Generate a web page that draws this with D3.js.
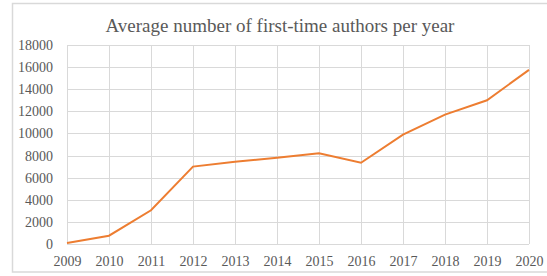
<!DOCTYPE html>
<meta charset="utf-8">
<style>
body { margin: 0; background: #fff; }
.tick text { font-family: "Liberation Serif", "Times New Roman", serif; font-size: 14px; fill: #595959; }
.grid line { stroke: #d9d9d9; stroke-width: 1px; }
.line { fill: none; stroke: #ed7d31; stroke-width: 2px; }
</style>
<body>
<script src="https://cdn.jsdelivr.net/npm/d3@7"></script>
<script>

// data
var years = [2009, 2010, 2011, 2012, 2013, 2014, 2015, 2016, 2017, 2018, 2019, 2020];
var authors = [100, 750, 3050, 7000, 7450, 7800, 8200, 7350, 9900, 11700, 13000, 15750];
var yTicks = [0, 2000, 4000, 6000, 8000, 10000, 12000, 14000, 16000, 18000];

var W = 547, H = 276;
var plot = {left: 67, right: 529, top: 45, bottom: 244};

var svg = d3.select("body").append("svg")
    .attr("width", W)
    .attr("height", H);

// chart border
svg.append("rect")
    .attr("x", 12.5).attr("y", 3.5)
    .attr("width", W).attr("height", 268.5)
    .attr("fill", "#fff")
    .attr("stroke", "#d9d9d9")
    .attr("stroke-width", 1.5);

var x = d3.scalePoint().domain(years).range([plot.left, plot.right]);
var y = d3.scaleLinear().domain([0, 18000]).range([plot.bottom, plot.top]);

// horizontal grid
svg.append("g")
    .attr("class", "grid")
    .selectAll("line")
    .data(yTicks)
  .enter().append("line")
    .attr("x1", plot.left).attr("x2", plot.right)
    .attr("y1", d => Math.round(y(d)) + 0.5)
    .attr("y2", d => Math.round(y(d)) + 0.5);

// vertical grid
svg.append("g")
    .attr("class", "grid")
    .selectAll("line")
    .data(years)
  .enter().append("line")
    .attr("y1", plot.top).attr("y2", plot.bottom)
    .attr("x1", d => Math.round(x(d)) + 0.5)
    .attr("x2", d => Math.round(x(d)) + 0.5);

// y axis labels
var yAxis = svg.append("g")
    .attr("transform", "translate(" + plot.left + ",0)")
    .call(d3.axisLeft(y).tickValues(yTicks).tickSize(0).tickPadding(14).tickFormat(d3.format("d")));
yAxis.select(".domain").remove();

// x axis labels
var xAxis = svg.append("g")
    .attr("transform", "translate(0," + plot.bottom + ")")
    .call(d3.axisBottom(x).tickSize(0).tickPadding(12).tickFormat(d3.format("d")));
xAxis.select(".domain").remove();

// line
var valueline = d3.line()
    .x((d, i) => x(years[i]))
    .y(d => y(d));

svg.append("path")
    .datum(authors)
    .attr("class", "line")
    .attr("d", valueline);

// title
svg.append("text")
    .attr("x", 280)
    .attr("y", 32)
    .attr("text-anchor", "middle")
    .style("font-family", "'Liberation Serif', 'Times New Roman', serif")
    .style("font-size", "19px")
    .style("fill", "#595959")
    .text("Average number of first-time authors per year");

</script>
</body>
